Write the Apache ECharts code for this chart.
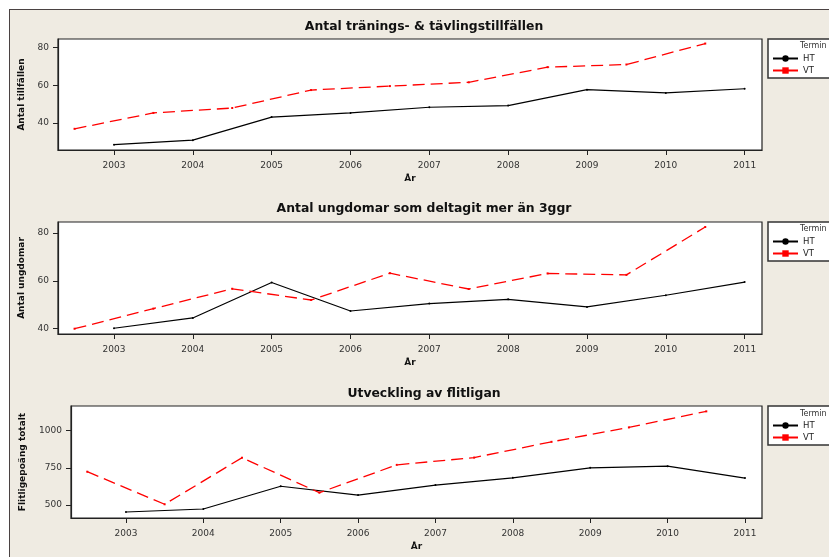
<!DOCTYPE html>
<html>
<head>
<meta charset="utf-8">
<script src="https://cdn.jsdelivr.net/npm/echarts@6/dist/echarts.min.js"></script>
<style>
html,body{margin:0;padding:0;background:#fff;}
#bg{position:absolute;left:9px;top:9px;width:840px;height:570px;background:#EFEBE2;border:1.5px solid #4a4242;}
#chart{position:absolute;left:0;top:0;width:829px;height:557px;}
</style>
</head>
<body>
<div id="bg"></div>
<div id="chart"></div>
<script>
// Data
const xTickYears = [2003, 2004, 2005, 2006, 2007, 2008, 2009, 2010, 2011];
const htYears = [2003, 2004, 2005, 2006, 2007, 2008, 2009, 2010, 2011];
const vtYears = [2002.5, 2003.5, 2004.5, 2005.5, 2006.5, 2007.5, 2008.5, 2009.5, 2010.5];

const titles = ['Antal tränings- & tävlingstillfällen', 'Antal ungdomar som deltagit mer än 3ggr', 'Utveckling av flitligan'];
const yNames = ['Antal tillfällen', 'Antal ungdomar', 'Flitligepoäng totalt'];
const xName = 'År';
const legendTitle = 'Termin';
const seriesNames = ['HT', 'VT'];

const ht1 = [28.6, 31.0, 43.2, 45.4, 48.4, 49.3, 57.7, 56.0, 58.2];
const vt1 = [37.0, 45.4, 48.0, 57.5, 59.6, 61.6, 69.6, 71.0, 82.1];
const ht2 = [40.2, 44.5, 59.3, 47.4, 50.5, 52.3, 49.1, 54.0, 59.5];
const vt2 = [40.0, 48.4, 56.7, 52.0, 63.2, 56.6, 63.1, 62.5, 82.5];
const ht3 = [453, 473, 626, 567, 634, 683, 750, 761, 681];
const vt3 = [724, 505, 818, 583, 770, 819, 925, 1022, 1130];

const yTicks1 = [40, 60, 80];
const yTicks2 = [40, 60, 80];
const yTicks3 = [500, 750, 1000];

const pair = (xs, ys) => xs.map((x, i) => [x, ys[i]]);

const grids = [
  {left: 58, top: 39, width: 704, height: 111},
  {left: 58, top: 222, width: 704, height: 112},
  {left: 71, top: 406, width: 691, height: 112}
];
const yRanges = [[25.8, 84.5], [37.8, 84.6], [412.6, 1166]];
const yTicks = [yTicks1, yTicks2, yTicks3];
const yNameGaps = [31, 31, 44];
const titleY = [27, 209, 394];
const terminY = [46, 229, 414];

const font = 'DejaVu Sans';
const chart = echarts.init(document.getElementById('chart'));

const option = {
  backgroundColor: 'transparent',
  animation: false,
  textStyle: {fontFamily: font},
  grid: grids.map(g => Object.assign({show: true, backgroundColor: '#fff', borderColor: '#222', borderWidth: 1.2}, g)),
  xAxis: grids.map((g, i) => ({
    type: 'value', gridIndex: i, min: 2002.29, max: 2011.22,
    name: xName, nameLocation: 'middle', nameGap: 24,
    nameTextStyle: {fontFamily: font, fontSize: 9, fontWeight: 'bold', color: '#111'},
    axisLine: {show: true, lineStyle: {color: '#222', width: 1.2}},
    axisTick: {show: true, length: 5, customValues: xTickYears, lineStyle: {color: '#222'}},
    axisLabel: {customValues: xTickYears, margin: 11, fontSize: 9, color: '#333', formatter: v => String(v)},
    splitLine: {show: false}
  })),
  yAxis: grids.map((g, i) => ({
    type: 'value', gridIndex: i, min: yRanges[i][0], max: yRanges[i][1],
    name: yNames[i], nameLocation: 'middle', nameGap: yNameGaps[i], nameRotate: 90,
    nameTextStyle: {fontFamily: font, fontSize: 9, fontWeight: 'bold', color: '#111'},
    axisLine: {show: true, lineStyle: {color: '#222', width: 1.2}},
    axisTick: {show: true, length: 5, customValues: yTicks[i], lineStyle: {color: '#222'}},
    axisLabel: {customValues: yTicks[i], margin: 9, fontSize: 9, color: '#333', formatter: v => String(v)},
    splitLine: {show: false}
  })),
  legend: grids.map((g, i) => ({
    left: 768, top: g.top, orient: 'vertical', data: seriesNames, z: 2,
    padding: [15, 26, 3, 4], itemWidth: 25, itemHeight: 8, itemGap: 3,
    backgroundColor: '#fff', borderColor: '#333', borderWidth: 1.5,
    lineStyle: {type: 'solid'},
    textStyle: {fontFamily: font, fontSize: 8.5, color: '#222'},
    selectedMode: false
  })),
  graphic: {
    z: 100,
    elements: titles.map((t, i) => ({
      type: 'text', x: 424, y: titleY[i], z: 100,
      style: {text: t, fontFamily: font, fontSize: 12.4, fontWeight: 'bold', fill: '#111', align: 'center', verticalAlign: 'middle'}
    })).concat(terminY.map(y => ({
      type: 'text', x: 800, y: y, z: 100,
      style: {text: legendTitle, fontFamily: font, fontSize: 8, fill: '#333', align: 'left', verticalAlign: 'middle'}
    })))
  },
  series: []
};

const htData = [ht1, ht2, ht3];
const vtData = [vt1, vt2, vt3];
for (let i = 0; i < 3; i++) {
  option.series.push({
    name: 'HT', type: 'line', xAxisIndex: i, yAxisIndex: i,
    data: pair(htYears, htData[i]), symbol: 'circle', symbolSize: 2,
    lineStyle: {color: '#000', width: 1.2}, itemStyle: {color: '#000'}
  });
  option.series.push({
    name: 'VT', type: 'line', xAxisIndex: i, yAxisIndex: i,
    data: pair(vtYears, vtData[i]), symbol: 'rect', symbolSize: 2,
    lineStyle: {color: '#FF0000', width: 1.3, type: [12, 6]}, itemStyle: {color: '#FF0000'}
  });
}
chart.setOption(option);
</script>
</body>
</html>
